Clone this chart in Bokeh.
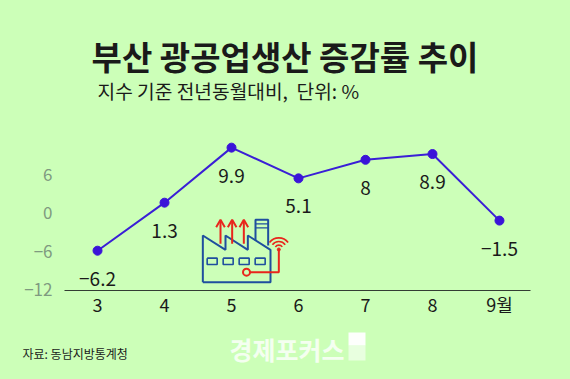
from bokeh.plotting import figure
from bokeh.layouts import column
from bokeh.models import Range1d, LinearAxis, FixedTicker
from bokeh.core.properties import value
from bokeh.embed import file_html
from bokeh.resources import INLINE

months = [3, 4, 5, 6, 7, 8, 9]
rates = [-6.2, 1.3, 9.9, 5.1, 8, 8.9, -1.5]
rate_labels = ["−6.2", "1.3", "9.9", "5.1", "8", "8.9", "−1.5"]
y_ticks = [-12, -6, 0, 6]
y_tick_labels = {-12: "−12", -6: "−6", 0: "0", 6: "6"}
x_tick_labels = {3: "3", 4: "4", 5: "5", 6: "6", 7: "7", 8: "8", 9: "9월"}

title_text = "부산 광공업생산 증감률 추이"
subtitle_text = "지수 기준 전년동월대비,\u00a0 단위: %"
source_text = "자료: 동남지방통계청"
logo_text = "경제포커스"

BG = "#ccffb8"
KR = "Noto Sans CJK KR"

p = figure(width=554, height=320, output_backend="svg", toolbar_location=None,
           x_range=Range1d(2.507, 9.463), y_range=Range1d(-12.42, 32.89),
           background_fill_color=BG, border_fill_color=BG,
           min_border_left=64, min_border_right=24, min_border_top=0, min_border_bottom=30,
           outline_line_color=None, y_axis_location=None, x_axis_location="below",
           frame_align=False)
p.grid.visible = False

p.extra_x_ranges["px"] = Range1d(64, 530)
p.extra_y_ranges["px"] = Range1d(290, 0)
p.extra_y_ranges["ax"] = Range1d(-12.42 + 0.3, 32.89 + 0.3)

yax = LinearAxis(y_range_name="ax", ticker=FixedTicker(ticks=y_ticks),
                 major_label_overrides=y_tick_labels, axis_line_color=None,
                 major_tick_line_color=None, minor_tick_line_color=None,
                 major_tick_out=0, major_label_standoff=12, major_label_text_font=KR,
                 major_label_text_font_size="17px", major_label_text_color="#7f9a80")
p.add_layout(yax, "left")

xax = p.xaxis[0]
xax.ticker = FixedTicker(ticks=months)
xax.major_label_overrides = x_tick_labels
xax.axis_line_color = "#333d33"
xax.axis_line_width = 1
xax.major_tick_line_color = None
xax.minor_tick_line_color = None
xax.major_tick_out = 0
xax.major_label_standoff = 0
xax.major_label_text_font = KR
xax.major_label_text_font_size = "18px"
xax.major_label_text_color = "#1a1a1a"

p.line(months, rates, line_color="#3a1fd6", line_width=2)
p.scatter(months, rates, size=9, fill_color="#3a14d8", line_color="#3a14d8")
p.text(months, rates, text=rate_labels, y_offset=28, text_align="center", text_baseline="middle",
       text_font=value(KR), text_font_size="19px", text_color="#1a1a1a")

BLUE, RED = "#1f4f9e", "#e8261c"
def zx(v): return [170 + a / 3 for a in v]
def zy(v): return [190 + a / 3 for a in v]
kw = dict(x_range_name="px", y_range_name="px")
p.line(zx([97, 97, 165, 165, 232, 232, 300, 300, 97]), zy([275, 135, 178, 135, 178, 135, 178, 275, 275]),
       line_color=BLUE, line_width=2, **kw)
p.line(zx([255, 255, 293, 293]), zy([150, 88, 88, 165]), line_color=BLUE, line_width=2, **kw)
p.line(zx([255, 293]), zy([100, 100]), line_color=BLUE, line_width=1.4, **kw)
p.line(zx([255, 293]), zy([112, 112]), line_color=BLUE, line_width=1.4, **kw)
for wx in (110, 158, 206, 254):
    p.line(zx([wx, wx + 30, wx + 30, wx, wx]), zy([203, 203, 222, 222, 203]), line_color=BLUE, line_width=1.6, **kw)
for ax_ in (150, 185, 220):
    p.line(zx([ax_, ax_]), zy([160, 90]), line_color=RED, line_width=2, **kw)
    p.line(zx([ax_ - 13, ax_, ax_ + 13]), zy([110, 88, 110]), line_color=RED, line_width=2, **kw)
p.line(zx([228, 325, 325]), zy([245, 245, 178]), line_color=RED, line_width=2, **kw)
p.scatter(zx([228]), zy([245]), size=7, fill_color=BG, line_color=RED, line_width=2, **kw)
p.scatter(zx([325]), zy([177]), size=3, fill_color=RED, line_color=RED, **kw)
for r in (13, 24, 35):
    p.arc(zx([325]), zy([177]), radius=r / 3, radius_units="screen", start_angle=0.65, end_angle=2.5,
          line_color=RED, line_width=1.6, **kw)

def lab(fig, t, x, y, size, color="#1a1a1a", weight="normal", align="left", alpha=1.0, **extra):
    fig.text([x], [y], text=[t], text_font=value(KR), text_font_size=size, text_color=color,
             text_font_style=weight, text_align=align, text_baseline="middle", text_alpha=alpha, **extra)

lab(p, title_text, 284.5, 55, "33px", weight="bold", align="center", **kw)
lab(p, subtitle_text, 97, 90, "19.2px", **kw)

f = figure(width=554, height=50, output_backend="svg", toolbar_location=None,
           x_range=Range1d(0, 554), y_range=Range1d(370, 320),
           background_fill_color=BG, border_fill_color=BG, outline_line_color=None,
           min_border=0, x_axis_location=None, y_axis_location=None, frame_align=False)
f.grid.visible = False
lab(f, source_text, 22, 353, "12px")
lab(f, logo_text, 229, 348, "25px", color="#f4fff0", weight="bold")
f.quad(left=[348], right=[365], top=[332], bottom=[345], fill_color="white", fill_alpha=0.95, line_color=None)
f.quad(left=[348], right=[365], top=[345], bottom=[360], fill_color="white", fill_alpha=0.55, line_color=None)

page = column(p, f, spacing=0)
html = file_html(page, INLINE).replace("<body>", f'<body style="background:{BG}">')
open("out.html", "w").write(html)
